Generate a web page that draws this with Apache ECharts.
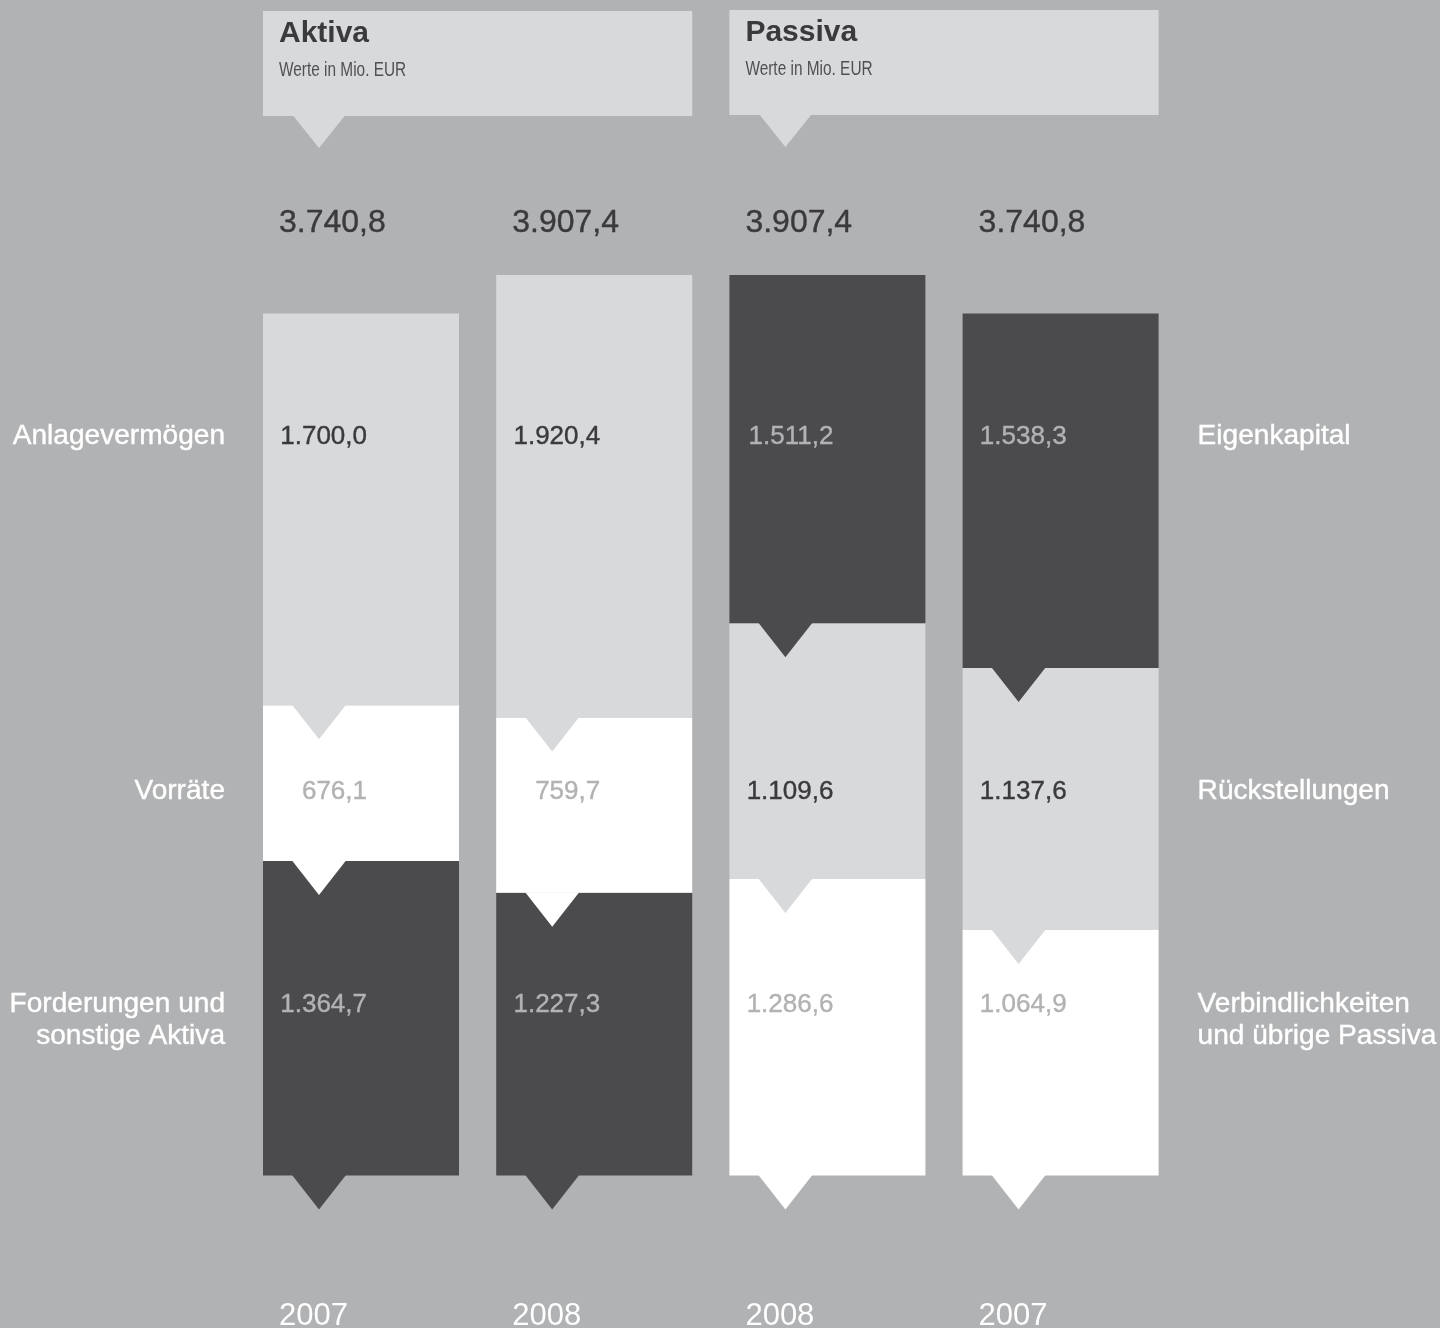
<!DOCTYPE html>
<html>
<head>
<meta charset="utf-8">
<script src="https://cdn.jsdelivr.net/npm/echarts@6/dist/echarts.min.js"></script>
<style>
html,body{margin:0;padding:0;background:#b1b2b4;}
#chart{width:1440px;height:1328px;}
</style>
</head>
<body>
<div id="chart"></div>
<script>
// ---- data ----
const categories = ['2007', '2008', '2008', '2007'];
const sides = ['Aktiva', 'Aktiva', 'Passiva', 'Passiva'];
const bottomValues = [1364.7, 1227.3, 1286.6, 1064.9];
const middleValues = [676.1, 759.7, 1109.6, 1137.6];
const topValues = [1700.0, 1920.4, 1511.2, 1538.3];
const totals = [3740.8, 3907.4, 3907.4, 3740.8];
const leftLabels = ['Anlagevermögen', 'Vorräte', 'Forderungen und\nsonstige Aktiva'];
const rightLabels = ['Eigenkapital', 'Rückstellungen', 'Verbindlichkeiten\nund übrige Passiva'];
const headerTitles = ['Aktiva', 'Passiva'];
const headerSubtitle = 'Werte in Mio. EUR';

// ---- styles ----
const BG = '#b1b2b4';
const LIGHT = '#d8d9db';
const DARK = '#4b4b4d';
const WHITE = '#ffffff';
const TEXT_DARK = '#3a3a3c';
const FONT = "'Liberation Sans', Arial, Helvetica, sans-serif";
const sideColors = {
  Aktiva: [DARK, WHITE, LIGHT],
  Passiva: [WHITE, LIGHT, DARK]
};
function labelColor(fill) {
  return fill === LIGHT ? TEXT_DARK : BG;
}
const ROW_Y = [1005, 792, 437]; // bottom, middle, top label rows
const BAR_W = 196;

function fmt(v) {
  const s = v.toFixed(1).split('.');
  const i = s[0].replace(/\B(?=(\d{3})+(?!\d))/g, '.');
  return i + ',' + s[1];
}

function txt(x, y, text, o) {
  return {
    type: 'text',
    x: x, y: y,
    scaleX: o.scaleX || 1,
    style: {
      x: 0, y: 0, text: text,
      fill: o.fill, fontSize: o.size, fontFamily: FONT,
      fontWeight: o.weight || 'normal',
      lineHeight: o.lineHeight,
      align: o.align || 'left', verticalAlign: o.valign || 'middle',
      stroke: o.thick ? o.fill : null,
      lineWidth: o.thick || 0
    }
  };
}

const seriesData = categories.map((c, i) => [i, bottomValues[i], middleValues[i], topValues[i], totals[i]]);

function renderItem(params, api) {
  const i = api.value(0);
  const vals = [api.value(1), api.value(2), api.value(3)];
  const cx = api.coord([i, 0])[0];
  const left = cx - BAR_W / 2;
  const right = cx + BAR_W / 2;
  const colors = sideColors[sides[i]];
  const children = [];
  const edges = [];
  let cum = 0;
  for (let k = 0; k < 3; k++) {
    const yb = api.coord([i, cum])[1];
    cum += vals[k];
    const yt = api.coord([i, cum])[1];
    edges.push(yb);
    children.push({
      type: 'rect',
      shape: { x: left, y: yt, width: BAR_W, height: yb - yt },
      style: { fill: colors[k] }
    });
  }
  const tx = left + 56;
  for (let k = 0; k < 3; k++) {
    const yb = edges[k];
    children.push({
      type: 'polygon',
      shape: { points: [[tx - 27, yb - 0.5], [tx + 27, yb - 0.5], [tx, yb + 34]] },
      style: { fill: colors[k] }
    });
  }
  for (let k = 0; k < 3; k++) {
    children.push(txt(left + 104, ROW_Y[k], fmt(vals[k]),
      { fill: labelColor(colors[k]), size: 26, align: 'right', thick: 0.4 }));
  }
  children.push(txt(left + 16, 223, fmt(api.value(4)),
    { fill: TEXT_DARK, size: 32, thick: 0.4 }));
  children.push(txt(left + 16, 1316, categories[i],
    { fill: '#ffffff', size: 31 }));
  if (i === 0 || i === 2) {
    const right2 = api.coord([i + 1, 0])[0] + BAR_W / 2;
    const top = i === 0 ? 11 : 10;
    children.push({
      type: 'rect',
      shape: { x: left, y: top, width: right2 - left, height: 105 },
      style: { fill: LIGHT }
    });
    children.push({
      type: 'polygon',
      shape: { points: [[tx - 26, top + 104.5], [tx + 26, top + 104.5], [tx, top + 137]] },
      style: { fill: LIGHT }
    });
    children.push(txt(left + 16, top + 23, headerTitles[i === 0 ? 0 : 1],
      { fill: TEXT_DARK, size: 30, weight: 'bold' }));
    children.push(txt(left + 16, top + 59, headerSubtitle,
      { fill: '#505052', size: 20, scaleX: 0.77 }));
  }
  if (i === 0 || i === 3) {
    const labels = i === 0 ? leftLabels : rightLabels;
    for (let k = 0; k < 3; k++) {
      children.push(txt(i === 0 ? left - 38 : right + 39, ROW_Y[k] - 16, labels[2 - k],
        { fill: '#ffffff', size: 27, lineHeight: 32, scaleX: 1.04,
          align: i === 0 ? 'right' : 'left', valign: 'top', thick: 0.4 }));
    }
  }
  return { type: 'group', children: children };
}

const chart = echarts.init(document.getElementById('chart'), null, { renderer: 'canvas' });
chart.setOption({
  backgroundColor: BG,
  animation: false,
  grid: { left: 244.4, width: 932.8, top: 253.7, height: 921.8 },
  xAxis: { type: 'category', data: categories, show: false },
  yAxis: { type: 'value', min: 0, max: 4000, show: false },
  series: [{
    type: 'custom',
    renderItem: renderItem,
    data: seriesData,
    encode: { x: 0, y: [1, 2, 3] },
    clip: false
  }]
});
</script>
</body>
</html>
